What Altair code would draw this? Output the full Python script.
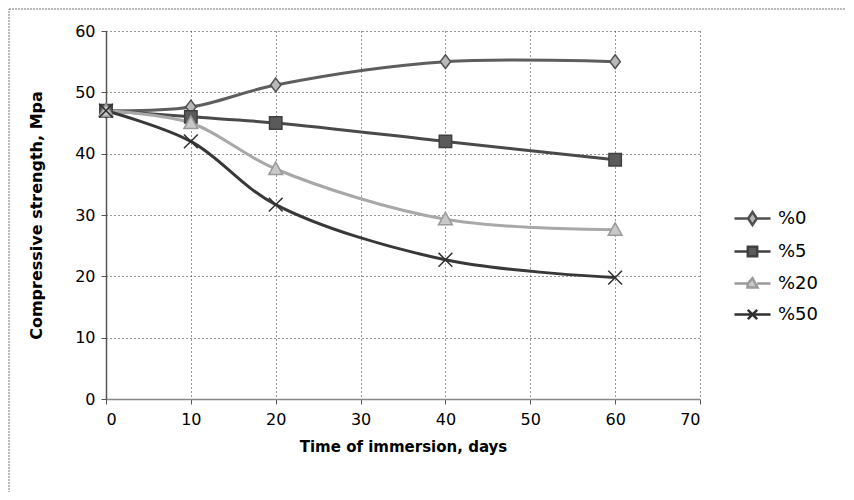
import altair as alt
import pandas as pd

days = [0, 10, 20, 40, 60]
series_names = ["%0", "%5", "%20", "%50"]
s0 = [47, 47.6, 51.2, 55, 55]
s5 = [47, 46, 45, 42, 39]
s20 = [47, 45, 37.5, 29.3, 27.6]
s50 = [47, 42, 31.7, 22.7, 19.8]

line_colors = ["#5e5e5e", "#4a4a4a", "#a8a8a8", "#383838"]
marker_fill = ["#b8b8b8", "#5a5a5a", "#c8c8c8", "#383838"]
marker_stroke = ["#505050", "#404040", "#9a9a9a", "#303030"]

diamond = "M0,-1L0.75,0L0,1L-0.75,0Z"
square = "M-0.9,-0.9L0.9,-0.9L0.9,0.9L-0.9,0.9Z"
triangle = "M0,-1L1,0.8L-1,0.8Z"
xmark = "M-1,-1L1,1M-1,1L1,-1"
marker_shapes = [diamond, square, triangle, xmark]

# legend symbols: a short line with the marker in the middle
leg_shapes = [
    "M-1,0L-0.24,0L0,-0.36L0.24,0L0,0.36L-0.24,0M0.24,0L1,0",
    "M-1,0L-0.26,0L-0.26,-0.26L0.26,-0.26L0.26,0.26L-0.26,0.26L-0.26,0M0.26,0L1,0",
    "M-1,0L-0.26,0L0,-0.3L0.28,0.22L-0.28,0.22L-0.26,0M0.26,0L1,0",
    "M-1,0L1,0M-0.26,-0.26L0.26,0.26M-0.26,0.26L0.26,-0.26",
]

rows = []
for name, vals in zip(series_names, [s0, s5, s20, s50]):
    for d, v in zip(days, vals):
        rows.append({"day": d, "value": v, "series": name})
df = pd.DataFrame(rows)

FONT = "DejaVu Sans"

x_enc = alt.X("day:Q", scale=alt.Scale(domain=[0, 70], nice=False),
              axis=alt.Axis(values=list(range(0, 71, 10)), title="Time of immersion, days"))
y_enc = alt.Y("value:Q", scale=alt.Scale(domain=[0, 60], nice=False),
              axis=alt.Axis(values=list(range(0, 61, 10)), title="Compressive strength, Mpa"))

base = alt.Chart(df)

lines = base.mark_line(strokeWidth=3, interpolate="catmull-rom").encode(
    x=x_enc, y=y_enc,
    color=alt.Color("series:N", sort=series_names,
                    scale=alt.Scale(domain=series_names, range=line_colors), legend=None),
    detail="series:N",
)

points = base.mark_point(filled=True, size=190, strokeWidth=1.5, opacity=1).encode(
    x="day:Q", y="value:Q",
    shape=alt.Shape("series:N", scale=alt.Scale(domain=series_names, range=marker_shapes), legend=None),
    fill=alt.Fill("series:N", scale=alt.Scale(domain=series_names, range=marker_fill), legend=None),
    stroke=alt.Stroke("series:N", scale=alt.Scale(domain=series_names, range=marker_stroke), legend=None),
)

leg = alt.Legend(title=None, orient="none", legendX=627, legendY=168,
                 symbolSize=1300, symbolOpacity=1, symbolStrokeWidth=2.5,
                 labelFont=FONT, labelFontSize=18, labelColor="#000",
                 rowPadding=2, labelOffset=6)

legend_layer = base.mark_point(filled=True, opacity=0).encode(
    x="day:Q", y="value:Q",
    shape=alt.Shape("series:N", sort=series_names,
                    scale=alt.Scale(domain=series_names, range=leg_shapes), legend=leg),
    stroke=alt.Stroke("series:N", sort=series_names,
                      scale=alt.Scale(domain=series_names, range=marker_stroke), legend=leg),
    fill=alt.Fill("series:N", sort=series_names,
                  scale=alt.Scale(domain=series_names, range=marker_fill), legend=leg),
)

frame_df = pd.DataFrame({"k": [0]})
frame = alt.Chart(frame_df).mark_rect(fill=None, stroke="#777", strokeDash=[2, 1],
                                      strokeWidth=1, clip=False).encode(
    x=alt.value(-97), x2=alt.value(741), y=alt.value(-22), y2=alt.value(480)
)

chart = alt.layer(frame, lines, points, legend_layer).resolve_scale(
    shape="independent", stroke="independent", fill="independent"
).resolve_legend(shape="independent", stroke="independent", fill="independent").properties(
    width=594, height=368,
    autosize=alt.AutoSizeParams(type="none"),
    padding={"left": 98, "top": 23, "right": 146, "bottom": 93},
).configure_view(stroke=None).configure_axis(
    labelFont=FONT, titleFont=FONT, labelFontSize=16, titleFontSize=15,
    titleFontWeight="bold", labelColor="#000", titleColor="#000",
    gridColor="#333", gridDash=[1, 3], gridWidth=1,
    domainColor="#888", domainWidth=1.5, tickColor="#555", tickSize=5,
).configure_axisX(labelPadding=7, titlePadding=12).configure_axisY(
    labelPadding=6, titlePadding=30, titleFontSize=16, domainColor="#555"
)

chart.save("out.html", embed_options={"renderer": "svg", "actions": False})
